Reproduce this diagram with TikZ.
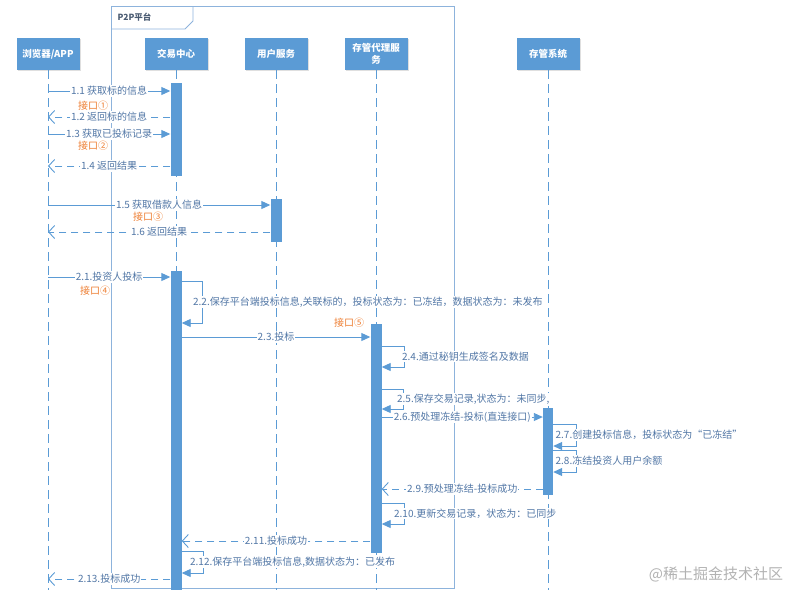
\documentclass[tikz,border=0pt]{standalone}
\usepackage{fontspec}
\setmainfont{Noto Sans CJK SC}
\usepackage{xcolor}
\usetikzlibrary{arrows.meta, calc, shadows}

\definecolor{umlblue}{HTML}{5B9BD5}
\definecolor{msgtext}{HTML}{5277A6}
\definecolor{ifaceorange}{HTML}{ED7D31}
\definecolor{framecol}{HTML}{8DB3DC}
\definecolor{tabtext}{HTML}{4A5B72}

\begin{document}
\begin{tikzpicture}[x=1pt, y=-1pt,
  actor/.style={fill=umlblue, text=white, font=\fontsize{9.5}{12}\selectfont\bfseries, minimum width=63pt, minimum height=32pt, align=center, inner sep=1pt, drop shadow={opacity=0.25, shadow xshift=1pt, shadow yshift=-1pt}},
  lifeline/.style={umlblue, line width=1pt, dash pattern=on 9pt off 5pt},
  bar/.style={fill=umlblue, minimum width=11pt, inner sep=0pt},
  msg/.style={umlblue, line width=0.9pt, -{Triangle[length=9pt, width=8pt]}},
  ret/.style={umlblue, line width=0.9pt, dash pattern=on 7pt off 5pt, -{Straight Barb[length=6pt, width=13pt]}},
  lbl/.style={fill=white, text=msgtext, font=\fontsize{10}{12}\selectfont, inner sep=1pt},
  iface/.style={text=ifaceorange, font=\fontsize{10}{12}\selectfont},
]
  \useasboundingbox (0,0) rectangle (797,592);

  % P2P platform frame
  \draw[framecol, line width=0.9pt] (111,6) rectangle (454,588);
  \draw[framecol, line width=0.9pt] (111,29) -- (185,29) -- (193,21) -- (193,6);
  \node[anchor=west, text=tabtext, font=\fontsize{8.5}{10}\selectfont\bfseries] (p2p) at (114,17) {P2P平台};

  % Participants
  \node[actor] (browser) at (48,54) {浏览器/APP};
  \node[actor] (trade) at (176,54) {交易中心};
  \node[actor] (user) at (276,54) {用户服务};
  \node[actor] (agent) at (376,54) {存管代理服\\务};
  \node[actor] (depo) at (548,54) {存管系统};

  % Lifelines
  \foreach \p in {browser, trade, user, agent, depo}
    \draw[lifeline] (\p.south) -- (\p.south |- 0,590);

  % Activation bars
  \node[bar, minimum height=93pt] (act1) at (176,129.5) {};
  \node[bar, minimum height=43pt] (actU) at (276,220.5) {};
  \node[bar, minimum height=319pt] (act2) at (176,430.5) {};
  \node[bar, minimum height=229pt] (actA) at (376,438.5) {};
  \node[bar, minimum width=10pt, minimum height=87pt] (actD) at (548,451.5) {};

  % Phase 1: query
  \draw[msg] (browser.south |- 0,91) -- node[lbl] {1.1 获取标的信息} (act1.west |- 0,91);
  \node[iface] (if1) at (93,106) {接口①};
  \draw[ret] (act1.west |- 0,117) -- node[lbl] {1.2 返回标的信息} (browser.south |- 0,117);
  \draw[msg] (browser.south |- 0,134) -- node[lbl] {1.3 获取已投标记录} (act1.west |- 0,134);
  \node[iface] (if2) at (93,146) {接口②};
  \draw[ret] (act1.west |- 0,166) -- node[lbl] {1.4 返回结果} (browser.south |- 0,166);
  \draw[msg] (browser.south |- 0,205) -- node[lbl] {1.5 获取借款人信息} (actU.west |- 0,205);
  \node[iface] (if3) at (148,217) {接口③};
  \draw[ret] (actU.west |- 0,232) -- node[lbl] {1.6 返回结果} (browser.south |- 0,232);

  % Phase 2: invest
  \draw[msg] (browser.south |- 0,277) -- node[lbl] {2.1.投资人投标} (act2.west |- 0,277);
  \node[iface] (if4) at (95,291) {接口④};
  \draw[msg] (act2.east |- 0,281) -- ++(21,0) -- node[lbl, anchor=west, xshift=-11pt] {2.2.保存平台端投标信息,关联标的，投标状态为：已冻结，数据状态为：未发布} ++(0,42) -- (act2.east |- 0,323);
  \node[iface] (if5) at (349,323) {接口⑤};
  \draw[msg] (act2.east |- 0,337) -- node[lbl] {2.3.投标} (actA.west |- 0,337);
  \draw[msg] (actA.east |- 0,346) -- ++(23,0) -- node[lbl, anchor=west, xshift=-4pt] {2.4.通过秘钥生成签名及数据} ++(0,21) -- (actA.east |- 0,367);
  \draw[msg] (actA.east |- 0,389) -- ++(22,0) -- node[lbl, anchor=west, xshift=-8pt] {2.5.保存交易记录,状态为：未同步,} ++(0,20) -- (actA.east |- 0,409);
  \draw[msg] (actA.east |- 0,417) -- node[lbl] {2.6.预处理冻结-投标(直连接口)} (actD.west |- 0,417);
  \draw[msg] (actD.east |- 0,424) -- ++(23,0) -- node[lbl, anchor=west, xshift=-22pt] {2.7.创建投标信息，投标状态为“已冻结”} ++(0,22) -- (actD.east |- 0,446);
  \draw[msg] (actD.east |- 0,450) -- ++(23,0) -- node[lbl, anchor=west, xshift=-22pt] {2.8.冻结投资人用户余额} ++(0,22) -- (actD.east |- 0,472);
  \draw[ret] (actD.west |- 0,489) -- node[lbl] {2.9.预处理冻结-投标成功} (actA.east |- 0,489);
  \draw[msg] (actA.east |- 0,503) -- ++(23,0) -- node[lbl, anchor=west, xshift=-12pt] {2.10.更新交易记录，状态为：已同步} ++(0,21) -- (actA.east |- 0,524);
  \draw[ret] (actA.west |- 0,541) -- node[lbl] {2.11.投标成功} (act2.east |- 0,541);
  \draw[msg] (act2.east |- 0,551) -- ++(22,0) -- node[lbl, anchor=west, xshift=-15pt] {2.12.保存平台端投标信息,数据状态为：已发布} ++(0,22) -- (act2.east |- 0,573);
  \draw[ret] (act2.west |- 0,579) -- node[lbl] {2.13.投标成功} (browser.south |- 0,579);

  % Watermark
  \node[text=gray!60, font=\fontsize{15}{17}\selectfont] (mark) at (716,574) {@稀土掘金技术社区};
\end{tikzpicture}
\end{document}
